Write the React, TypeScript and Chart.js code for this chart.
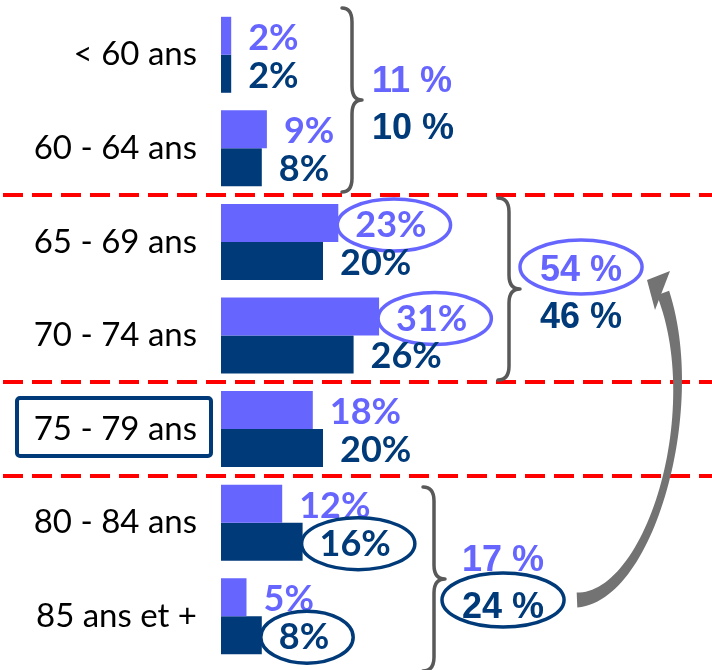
import React, { useEffect, useRef } from "react";
import { Chart, registerables } from "chart.js";

Chart.register(...registerables);

// ---- Data ----
const categories = ["< 60 ans", "60 - 64 ans", "65 - 69 ans", "70 - 74 ans", "75 - 79 ans", "80 - 84 ans", "85 ans et +"];
const seriesLight = [2, 9, 23, 31, 18, 12, 5];
const seriesDark = [2, 8, 20, 26, 20, 16, 8];
const groupLight = [11, 54, 17];
const groupDark = [10, 46, 24];
const circledLight = [2, 3];
const circledDark = [5, 6];
const circledGroupLight = [1];
const circledGroupDark = [2];
const highlightedCategory = 4;
const separators = [1.5, 3.5, 4.5];

// ---- Style ----
const LIGHT = "#6666FF";
const DARK = "#003A78";
const GREY = "#595959";
const LABEL_FONT = "bold 36px Lato";
const GROUP_FONT = "bold 36px 'Liberation Sans'";

// brace geometry (annotation layout)
const braces = [
  { x0: 342, x1: 362, top: 8, bottom: 192, textX: 372 },
  { x0: 498, x1: 520, top: 198, bottom: 380, textX: 540 },
  { x0: 423, x1: 445, top: 487, bottom: 671, textX: 462 },
];

function drawEllipse(ctx: CanvasRenderingContext2D, cx: number, cy: number, rx: number, ry: number, color: string) {
  ctx.save();
  ctx.beginPath();
  ctx.ellipse(cx, cy, rx, ry, 0, 0, Math.PI * 2);
  ctx.fillStyle = "#FFFFFF";
  ctx.fill();
  ctx.lineWidth = 3.5;
  ctx.strokeStyle = color;
  ctx.stroke();
  ctx.restore();
}

function drawBrace(ctx: CanvasRenderingContext2D, b: { x0: number; x1: number; top: number; bottom: number }) {
  const xm = (b.x0 + b.x1) / 2;
  const ym = (b.top + b.bottom) / 2;
  const r = 14;
  ctx.save();
  ctx.strokeStyle = GREY;
  ctx.lineWidth = 3.5;
  ctx.lineCap = "round";
  ctx.lineJoin = "round";
  ctx.beginPath();
  ctx.moveTo(b.x0, b.top);
  ctx.quadraticCurveTo(xm, b.top, xm, b.top + r);
  ctx.lineTo(xm, ym - r);
  ctx.quadraticCurveTo(xm, ym, b.x1, ym);
  ctx.quadraticCurveTo(xm, ym, xm, ym + r);
  ctx.lineTo(xm, b.bottom - r);
  ctx.quadraticCurveTo(xm, b.bottom, b.x0, b.bottom);
  ctx.stroke();
  ctx.restore();
}

function drawArrow(ctx: CanvasRenderingContext2D) {
  const S = [577, 600], C1 = [650, 597], C2 = [705, 410], E = [663, 293];
  const pt = (t: number) => {
    const a = (1 - t) ** 3, b = 3 * (1 - t) ** 2 * t, c = 3 * (1 - t) * t * t, d = t ** 3;
    return [a * S[0] + b * C1[0] + c * C2[0] + d * E[0], a * S[1] + b * C1[1] + c * C2[1] + d * E[1]];
  };
  const der = (t: number) => {
    const a = 3 * (1 - t) ** 2, b = 6 * (1 - t) * t, c = 3 * t * t;
    return [a * (C1[0] - S[0]) + b * (C2[0] - C1[0]) + c * (E[0] - C2[0]), a * (C1[1] - S[1]) + b * (C2[1] - C1[1]) + c * (E[1] - C2[1])];
  };
  const w = (t: number) => 15 * (1 - t) ** 2 + 1 * 2 * t * (1 - t) + 13 * t * t;
  const left: number[][] = [], right: number[][] = [];
  const N = 60;
  for (let i = 0; i <= N; i++) {
    const t = i / N;
    const p = pt(t), d = der(t);
    const len = Math.hypot(d[0], d[1]);
    const nx = -d[1] / len, ny = d[0] / len;
    const hw = w(t) / 2;
    left.push([p[0] + nx * hw, p[1] + ny * hw]);
    right.push([p[0] - nx * hw, p[1] - ny * hw]);
  }
  ctx.save();
  ctx.fillStyle = "#737373";
  ctx.beginPath();
  ctx.moveTo(left[0][0], left[0][1]);
  left.forEach((p) => ctx.lineTo(p[0], p[1]));
  for (let i = right.length - 1; i >= 0; i--) ctx.lineTo(right[i][0], right[i][1]);
  ctx.closePath();
  ctx.fill();
  ctx.beginPath();
  ctx.moveTo(647, 280);
  ctx.lineTo(670, 271);
  ctx.lineTo(655, 310);
  ctx.closePath();
  ctx.fill();
  ctx.restore();
}

const annotations = {
  id: "annotations",
  beforeDatasetsDraw(chart: any) {
    const ctx: CanvasRenderingContext2D = chart.ctx;
    const ys = chart.scales.y;
    ctx.save();
    ctx.strokeStyle = "#FF0000";
    ctx.lineWidth = 4;
    ctx.setLineDash([20, 9]);
    ctx.lineDashOffset = -3;
    separators.forEach((s) => {
      const py = Math.round(ys.getPixelForValue(s));
      ctx.beginPath();
      ctx.moveTo(0, py);
      ctx.lineTo(chart.width, py);
      ctx.stroke();
    });
    ctx.restore();
  },
  afterDatasetsDraw(chart: any) {
    const ctx: CanvasRenderingContext2D = chart.ctx;
    const ys = chart.scales.y;

    // highlighted category box
    const cy = ys.getPixelForValue(highlightedCategory) - 2;
    ctx.save();
    ctx.strokeStyle = DARK;
    ctx.lineWidth = 4;
    ctx.beginPath();
    (ctx as any).roundRect(17, cy - 29, 194, 58, 3);
    ctx.stroke();
    ctx.restore();

    // arrow
    drawArrow(ctx);

    // bar value labels
    const sets = [
      { values: seriesLight, color: LIGHT, circled: circledLight },
      { values: seriesDark, color: DARK, circled: circledDark },
    ];
    sets.forEach((s, di) => {
      const meta = chart.getDatasetMeta(di);
      meta.data.forEach((bar: any, j: number) => {
        const text = `${s.values[j]}%`;
        ctx.save();
        ctx.font = LABEL_FONT;
        const tw = ctx.measureText(text).width;
        const x = bar.x + 17;
        if (s.circled.includes(j)) {
          drawEllipse(ctx, x + tw / 2 + 3, bar.y + 2, tw / 2 + 21, 26, s.color);
        }
        ctx.font = LABEL_FONT;
        ctx.fillStyle = s.color;
        ctx.textAlign = "left";
        ctx.textBaseline = "alphabetic";
        ctx.fillText(text, x, bar.y + 14);
        ctx.restore();
      });
    });

    // braces and group totals
    braces.forEach((b, i) => {
      drawBrace(ctx, b);
      const ym = (b.top + b.bottom) / 2;
      ctx.save();
      ctx.font = GROUP_FONT;
      ctx.textAlign = "left";
      ctx.textBaseline = "alphabetic";
      const tL = `${groupLight[i]} %`;
      const tD = `${groupDark[i]} %`;
      const wL = ctx.measureText(tL).width;
      const wD = ctx.measureText(tD).width;
      if (circledGroupLight.includes(i)) drawEllipse(ctx, b.textX + wL / 2, ym - 22, wL / 2 + 20, 27, LIGHT);
      if (circledGroupDark.includes(i)) drawEllipse(ctx, b.textX + wD / 2, ym + 21, wD / 2 + 20, 27, DARK);
      ctx.font = GROUP_FONT;
      ctx.fillStyle = LIGHT;
      ctx.fillText(tL, b.textX, ym - 8);
      ctx.fillStyle = DARK;
      ctx.fillText(tD, b.textX, ym + 39);
      ctx.restore();
    });
  },
};

export default function App() {
  const ref = useRef<HTMLCanvasElement | null>(null);
  useEffect(() => {
    if (!ref.current) return;
    const chart = new Chart(ref.current, {
      type: "bar",
      data: {
        labels: categories,
        datasets: [
          { data: seriesLight, backgroundColor: LIGHT, borderWidth: 0, categoryPercentage: 0.812, barPercentage: 1 },
          { data: seriesDark, backgroundColor: DARK, borderWidth: 0, categoryPercentage: 0.812, barPercentage: 1 },
        ],
      },
      options: {
        indexAxis: "y",
        responsive: false,
        animation: false,
        layout: { padding: { top: 8, bottom: 7, left: 0, right: 32 } },
        plugins: { legend: { display: false }, tooltip: { enabled: false } },
        scales: {
          x: { display: false, min: 0, max: 90 },
          y: {
            grid: { display: false, drawTicks: false },
            border: { display: false },
            ticks: { color: "#000000", font: { family: "Lato", size: 33 }, padding: 24 },
            afterFit: (scale: any) => {
              scale.width = 221;
              scale.paddingTop = 0;
              scale.paddingBottom = 0;
            },
          },
        },
      },
      plugins: [annotations],
    } as any);
    const fonts = (document as any).fonts;
    if (fonts && fonts.load) {
      Promise.all([
        fonts.load("33px Lato"),
        fonts.load("bold 36px Lato"),
        fonts.load("bold 36px 'Liberation Sans'"),
      ]).then(() => chart.update()).catch(() => {});
    }
    return () => chart.destroy();
  }, []);
  return (
    <div style={{ position: "absolute", left: 0, top: 0, width: 712, height: 670, background: "#fff" }}>
      <canvas ref={ref} width={712} height={670} style={{ display: "block", width: 712, height: 670 }} />
    </div>
  );
}
